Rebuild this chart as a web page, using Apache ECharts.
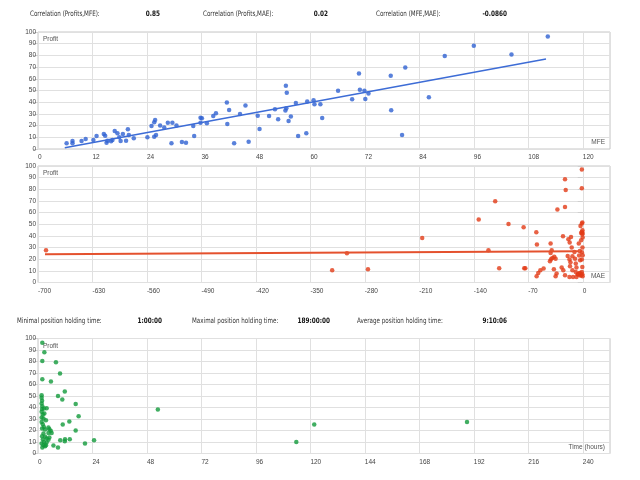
<!DOCTYPE html>
<html>
<head>
<meta charset="utf-8">
<script src="https://cdn.jsdelivr.net/npm/echarts@6/dist/echarts.min.js"></script>
<style>
  html, body { margin: 0; padding: 0; background: #fff; }
  #chart { width: 640px; height: 480px; }
</style>
</head>
<body>
<div id="chart"></div>
<script>
// header texts
const corrLabels = ['Correlation (Profits,MFE):', 'Correlation (Profits,MAE):', 'Correlation (MFE,MAE):'];
const corrValues = ['0.85', '0.02', '-0.0860'];
const holdLabels = ['Minimal position holding time:', 'Maximal position holding time:', 'Average position holding time:'];
const holdValues = ['1:00:00', '189:00:00', '9:10:06'];

// chart 1: profit vs MFE
const mfeValues = [6.3, 7.6, 7.6, 9.6, 10.5, 12.2, 12.9, 14.5, 14.8, 15.1, 15.3, 16.1, 16.4, 16.9, 17.5, 17.9, 18.2, 18.7, 19.4, 19.8,
  20.0, 21.1, 24.1, 25.0, 25.6, 25.8, 25.6, 26.0, 26.9, 27.8, 28.6, 29.4, 29.6, 30.5, 31.7, 32.6, 34.2, 34.4, 35.8, 36.1,
  35.8, 37.2, 38.6, 39.2, 41.6, 42.1, 41.7, 43.2, 44.5, 45.7, 46.4, 48.4, 48.8, 50.9, 52.2, 52.9, 54.6, 54.8, 54.5, 54.7,
  55.2, 55.7, 56.8, 57.3, 59.1, 59.3, 60.7, 60.9, 62.2, 62.6, 66.1, 69.2, 70.7, 70.9, 71.9, 72.1, 72.8, 77.7, 77.8, 80.2,
  80.9, 86.1, 89.6, 96.0, 104.3, 112.3];
const mfeProfits = [4.9, 6.9, 4.9, 6.9, 8.6, 7.7, 11.1, 12.9, 11.4, 5.4, 7.1, 6.6, 7.7, 15.4, 13.4, 10, 6.9, 12.9, 7.1, 16.9,
  12, 9.2, 10, 19.7, 22.9, 24.8, 10.5, 12, 20, 18.3, 22.5, 4.9, 22.5, 20, 6, 5.4, 19.7, 11.1, 26.8, 26.3,
  22.5, 22, 28.3, 30.6, 39.7, 33.4, 21.4, 4.9, 30, 37.1, 6.3, 28.5, 17.1, 28.3, 34, 25.4, 54, 48, 32.8, 34.9,
  24, 27.7, 39.4, 11.1, 13.4, 40.5, 41.7, 38.3, 38.3, 26.6, 49.7, 42.6, 64.5, 50.6, 49.7, 42.8, 47.4, 62.6, 33.2, 12,
  69.7, 44.3, 79.4, 88.3, 80.8, 96.2];
const mfeTrendX = [5.9, 111.9];
const mfeTrendY = [1.1, 76.9];

// chart 2: profit vs MAE
const maeValues = [-689.7, -322, -303, -276, -206.3, -133.7, -121.2, -112.5, -107.4, -95.4, -76, -75.2, -73.8, -59.7, -58.9, -59.3,
  -57.2, -54.5, -50.3, -41.3, -39.9, -41.3, -40.9, -39.1, -36.6, -34.9, -42.2, -37.1, -34.9, -33.6, -32.6, -27.1,
  -25.4, -25, -22.8, -21.9, -22.8, -22.8, -19.4, -18.5, -16.8, -17.1, -15.8, -16.4, -15.1, -14.2, -13.3, -13.3,
  -17.1, -12.5, -10.7, -9.9, -9, -8.1, -6.4, -5.1, -3.8, -4.7, -3.4, -4.2, -3.4, -2.1, -2.9, -1.2,
  -0.5, -0.4, -1.2, -0.2, -2.1, -0.6, -0.1, -2.1, -0.4, -1.2, -0.1, -1.2, -0.6, -1.2, -0.6, -3.6,
  -6.3, -1.2, -1.2, -0.2, -8.1, -9];
const maeProfits = [27.7, 10.5, 25.2, 11.4, 38.3, 54, 27.7, 69.7, 12.3, 50.3, 47.4, 12.3, 12.3, 43.1, 32.6, 5.4,
  8.2, 10.5, 12, 33.4, 27.7, 25.4, 20, 21.1, 22, 20.3, 18.3, 11.4, 5.4, 7.7, 62.6, 12.9,
  39.7, 10.5, 88.6, 79.4, 64.8, 6.3, 22.8, 37.1, 34.3, 19.7, 17.4, 14, 39.1, 30, 22.6, 10.5,
  4.8, 4.8, 26.2, 20.3, 16.3, 12.9, 7.1, 33.4, 27.1, 23.1, 19.1, 8.2, 6, 6.3, 48.5, 50.6,
  51.5, 44.9, 43.4, 42.5, 42.5, 41.4, 38.6, 36.3, 30, 26, 23.4, 19.7, 13.4, 9.1, 7.1, 7.7,
  6.9, 96.9, 80.9, 5.4, 4.8, 9.1];
const maeTrendX = [-691, -5];
const maeTrendY = [24.3, 26.8];

// chart 3: profit vs holding time (hours)
const holdHours = [1.9, 2.8, 1.9, 7.9, 9.7, 1.9, 5.7, 11.8, 8.8, 10.7, 16.6, 17.9, 13.8, 10.9, 16.6, 14, 11.9, 11.8, 9.8, 8.8,
  6.8, 20.7, 24.7, 52.8, 113.8, 121.7, 189,
  1.6, 1.6, 1.8, 1.6, 1.9, 1.8, 2.6, 3.8, 1.6, 2.1, 2.8, 1.6, 2.4, 3.5, 1.6, 2.1, 2.6, 1.8, 3.1, 4.6,
  5.0, 5.6, 6.0, 4.6, 2.4, 1.8, 3.1, 3.8, 5.0, 2.1, 2.6, 1.6, 2.4, 3.1, 1.9, 3.8, 4.6, 3.5];
const holdProfits = [96.2, 88.1, 80.5, 79.4, 69.6, 64.6, 62.6, 53.9, 50.1, 47, 43.1, 32.4, 27.8, 25.2, 20, 12.4, 12.4, 10.7, 11.6, 5.2,
  7, 8.7, 11.6, 38.3, 10.1, 25.2, 27.5,
  50.7, 48.4, 45.8, 43.5, 41.1, 38.8, 39.1, 39.4, 36.2, 33.9, 34.8, 31.3, 30.4, 29, 27.5, 25.5, 23.1, 21.7, 20.8, 22.6,
  21.1, 19.7, 17.9, 17.9, 17.4, 15.1, 14.5, 13.1, 13.9, 12.1, 10.1, 8.7, 7.2, 6.4, 5.2, 9.5, 11.9, 7.2];

const zip = (xs, ys) => xs.map((x, i) => [x, ys[i]]);

const labelFont = 'Liberation Sans';
const headFont = "'Liberation Sans Narrow', 'DejaVu Sans Condensed', sans-serif";

const grids = [
  { left: 38, right: 30, top: 32, height: 117 },
  { left: 38, right: 30, top: 166, height: 116.5 },
  { left: 38, right: 30, top: 338.5, height: 115 }
].map(g => Object.assign(g, { show: true, borderColor: '#c6c6c6', borderWidth: 1 }));

function xAxisFor(gridIndex, min, max, interval) {
  return {
    type: 'value', gridIndex, min, max, interval,
    axisLine: { show: false },
    axisTick: { show: false },
    splitLine: { show: true, lineStyle: { color: '#e0e0e0', width: 1 } },
    axisLabel: {
      fontSize: 6.5, color: '#444', fontFamily: labelFont,
      align: 'left', margin: 5, showMaxLabel: false
    }
  };
}

function yAxisFor(gridIndex) {
  return {
    type: 'value', gridIndex, min: 0, max: 100, interval: 10,
    axisLine: { show: false },
    axisTick: { show: true, length: 5, lineStyle: { color: '#d0d0d0' } },
    splitLine: { show: true, lineStyle: { color: '#e0e0e0', width: 1 } },
    axisLabel: { fontSize: 6.5, color: '#444', fontFamily: labelFont, margin: 2 }
  };
}

// header text rows (narrowed horizontally) and axis captions
const graphic = [];
const rowLabelX = [[30, 203, 376], [17, 192, 357]];
const rowValueX = [[160, 328, 507], [162, 330, 507]];
[[corrLabels, corrValues, 14], [holdLabels, holdValues, 321]].forEach(([labels, values, y], r) => {
  labels.forEach((t, i) => {
    graphic.push({ type: 'text', x: rowLabelX[r][i], y, scaleX: 0.83,
      style: { text: t, fontSize: 7.5, fontFamily: headFont, fill: '#333', align: 'left', verticalAlign: 'middle' } });
    graphic.push({ type: 'text', x: rowValueX[r][i], y, scaleX: 0.85,
      style: { text: values[i], fontSize: 7.5, fontFamily: headFont, fontWeight: 'bold', fill: '#111', align: 'right', verticalAlign: 'middle' } });
  });
});
const xNames = ['MFE', 'MAE', 'Time (hours)'];
grids.forEach((g, i) => {
  graphic.push({ type: 'text', left: 43, top: g.top + 4,
    style: { text: 'Profit', fontSize: 6.5, fontFamily: labelFont, fill: '#555' } });
  graphic.push({ type: 'text', right: 35, top: g.top + g.height - 10,
    style: { text: xNames[i], fontSize: 6.5, fontFamily: labelFont, fill: '#555' } });
});

const dot = { type: 'scatter', symbol: 'circle', symbolSize: 4.5, silent: true };

const option = {
  backgroundColor: '#fff',
  animation: false,
  grid: grids,
  xAxis: [xAxisFor(0, 0, 126, 12), xAxisFor(1, -700, 35, 70), xAxisFor(2, 0, 252, 24)],
  yAxis: [yAxisFor(0), yAxisFor(1), yAxisFor(2)],
  graphic,
  series: [
    Object.assign({}, dot, { xAxisIndex: 0, yAxisIndex: 0, data: zip(mfeValues, mfeProfits), itemStyle: { color: '#2f62d2' } }),
    { type: 'line', xAxisIndex: 0, yAxisIndex: 0, data: zip(mfeTrendX, mfeTrendY), showSymbol: false,
      lineStyle: { color: '#3d6cd6', width: 1.5 }, silent: true },
    Object.assign({}, dot, { xAxisIndex: 1, yAxisIndex: 1, data: zip(maeValues, maeProfits), itemStyle: { color: '#e23b17' } }),
    { type: 'line', xAxisIndex: 1, yAxisIndex: 1, data: zip(maeTrendX, maeTrendY), showSymbol: false,
      lineStyle: { color: '#e4512e', width: 2 }, silent: true },
    Object.assign({}, dot, { xAxisIndex: 2, yAxisIndex: 2, data: zip(holdHours, holdProfits), itemStyle: { color: '#129a3b' } })
  ]
};

const myChart = echarts.init(document.getElementById('chart'));
myChart.setOption(option);
</script>
</body>
</html>
